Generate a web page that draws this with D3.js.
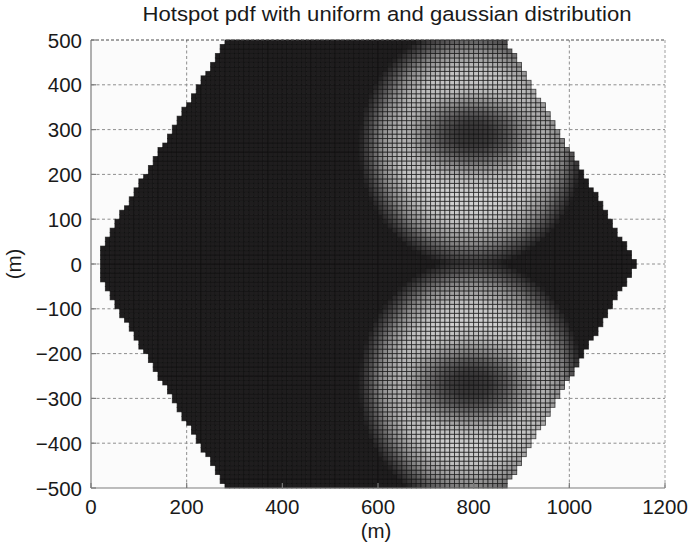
<!DOCTYPE html>
<html>
<head>
<meta charset="utf-8">
<script src="https://cdn.jsdelivr.net/npm/d3@7"></script>
<style>
  html, body { margin: 0; padding: 0; background: #ffffff; }
  svg { display: block; }
  text { font-family: "Liberation Sans", Arial, Helvetica, sans-serif; fill: #1a1a1a; }
</style>
</head>
<body>
<svg id="chart" width="688" height="550"></svg>
<script>
// ---- data (metres) ----
const xTicks = [0, 200, 400, 600, 800, 1000, 1200];
const yTicks = [-500, -400, -300, -200, -100, 0, 100, 200, 300, 400, 500];
const xTickLabels = ["0", "200", "400", "600", "800", "1000", "1200"];
const yTickLabels = ["\u2212500", "\u2212400", "\u2212300", "\u2212200", "\u2212100", "0", "100", "200", "300", "400", "500"];

// hexagonal cell outline (uniform pdf region)
const hexVertices = [[0, 0], [282, 500], [866, 500], [1140, 0], [866, -500], [282, -500]];

// pdf evaluation grid
const cellSize = 10;
const gridX0 = 20, gridX1 = 1160;
const gridY0 = -500, gridY1 = 500;

// gaussian hotspots: envelope centre / radii and dark core centre / radii
const hotspotCentres = [[795, 262], [795, -268]];
const hotspotRadii   = [[235, 270], [235, 280]];
const coreCentres    = [[800, 288], [795, -268]];
const coreRadii      = [[105, 72], [105, 76]];

// radial profiles (normalised radius -> level)
const envRho   = [0, 0.5, 0.65, 0.8, 0.9, 1.0];
const envLevel = [1, 0.97, 0.88, 0.6, 0.28, 0];
const coreRho   = [0, 0.4, 0.7, 1.0, 1.35, 1.8];
const coreDepth = [0.9, 0.84, 0.66, 0.4, 0.14, 0];

// ---- layout ----
const svg = d3.select("#chart");
const x = d3.scaleLinear().domain([0, 1200]).range([91, 665]);
const y = d3.scaleLinear().domain([-500, 500]).range([488, 40]);

const envScale = d3.scaleLinear().domain(envRho).range(envLevel).clamp(true);
const coreScale = d3.scaleLinear().domain(coreRho).range(coreDepth).clamp(true);
const gray = d3.scaleLinear().domain([0, 1]).range(["#1f1d1e", "#d6d6d6"]).interpolate(d3.interpolateRgb).clamp(true);

// plot background
svg.append("rect")
  .attr("x", x(0)).attr("y", y(500))
  .attr("width", x(1200) - x(0)).attr("height", y(-500) - y(500))
  .attr("fill", "#fbfbfb");

// dashed grid (drawn beneath the surface)
const grid = svg.append("g").attr("stroke", "#8e8e8e").attr("stroke-width", 1).attr("stroke-dasharray", "3,2.5");
grid.selectAll("line.gx").data(xTicks.filter(v => v > 0 && v < 1200)).join("line")
  .attr("x1", d => x(d)).attr("x2", d => x(d))
  .attr("y1", y(-500)).attr("y2", y(500));
grid.selectAll("line.gy").data(yTicks.filter(v => v > -500 && v < 500)).join("line")
  .attr("y1", d => y(d)).attr("y2", d => y(d))
  .attr("x1", x(0)).attr("x2", x(1200));

// surface cells
function level(cx, cy) {
  let best = 0;
  for (let i = 0; i < hotspotCentres.length; i++) {
    const [hx, hy] = hotspotCentres[i], [rx, ry] = hotspotRadii[i];
    const [kx, ky] = coreCentres[i], [qx, qy] = coreRadii[i];
    const rho = Math.hypot((cx - hx) / rx, (cy - hy) / ry);
    const rc = Math.hypot((cx - kx) / qx, (cy - ky) / qy);
    const v = envScale(rho) * (1 - coreScale(rc));
    if (v > best) best = v;
  }
  return best;
}

const cells = [];
for (let cx = gridX0; cx < gridX1; cx += cellSize) {
  for (let cy = gridY0; cy < gridY1; cy += cellSize) {
    const mx = cx + cellSize / 2, my = cy + cellSize / 2;
    if (d3.polygonContains(hexVertices, [mx, my])) {
      cells.push({ x0: cx, y0: cy, v: level(mx, my) });
    }
  }
}

svg.append("g")
  .attr("stroke", "#101010").attr("stroke-width", 0.9).attr("stroke-opacity", 0.7)
  .selectAll("rect").data(cells).join("rect")
  .attr("x", d => x(d.x0))
  .attr("y", d => y(d.y0 + cellSize))
  .attr("width", d => x(d.x0 + cellSize) - x(d.x0))
  .attr("height", d => y(d.y0) - y(d.y0 + cellSize))
  .attr("fill", d => gray(d.v));

// box: solid left / bottom, dashed top / right
svg.append("line").attr("x1", x(0)).attr("x2", x(0)).attr("y1", y(-500)).attr("y2", y(500))
  .attr("stroke", "#7c7c7c").attr("stroke-width", 1.2);
svg.append("line").attr("x1", x(0)).attr("x2", x(1200)).attr("y1", y(-500)).attr("y2", y(-500))
  .attr("stroke", "#7c7c7c").attr("stroke-width", 1.2);
svg.append("line").attr("x1", x(0)).attr("x2", x(1200)).attr("y1", y(500)).attr("y2", y(500))
  .attr("stroke", "#4a4a4a").attr("stroke-width", 1).attr("stroke-dasharray", "3,2");
svg.append("line").attr("x1", x(1200)).attr("x2", x(1200)).attr("y1", y(-500)).attr("y2", y(500))
  .attr("stroke", "#a0a0a0").attr("stroke-width", 1).attr("stroke-dasharray", "3,2");

// inner tick marks
svg.append("g").selectAll("line").data(yTicks).join("line")
  .attr("x1", x(0)).attr("x2", x(0) + 5)
  .attr("y1", d => y(d)).attr("y2", d => y(d))
  .attr("stroke", "#7c7c7c").attr("stroke-width", 1.2);
svg.append("g").selectAll("line").data(xTicks).join("line")
  .attr("y1", y(-500)).attr("y2", y(-500) - 5)
  .attr("x1", d => x(d)).attr("x2", d => x(d))
  .attr("stroke", "#7c7c7c").attr("stroke-width", 1.2);

// tick labels
svg.append("g").selectAll("text").data(yTicks).join("text")
  .attr("x", x(0) - 9).attr("y", d => y(d) + 7.5)
  .attr("text-anchor", "end").attr("font-size", 20.5)
  .text((d, i) => yTickLabels[i]);
svg.append("g").selectAll("text").data(xTicks).join("text")
  .attr("x", d => x(d)).attr("y", 514)
  .attr("text-anchor", "middle").attr("font-size", 20.5)
  .text((d, i) => xTickLabels[i]);

// axis titles
svg.append("text").attr("x", 376).attr("y", 538)
  .attr("text-anchor", "middle").attr("font-size", 20.5).text("(m)");
svg.append("text").attr("transform", "translate(21," + y(0) + ") rotate(-90)")
  .attr("text-anchor", "middle").attr("font-size", 20.5).text("(m)");

// title
svg.append("text").attr("x", 387).attr("y", 21)
  .attr("text-anchor", "middle").attr("font-size", 20.5)
  .attr("textLength", 489).attr("lengthAdjust", "spacingAndGlyphs")
  .text("Hotspot pdf with uniform and gaussian distribution");
</script>
</body>
</html>
